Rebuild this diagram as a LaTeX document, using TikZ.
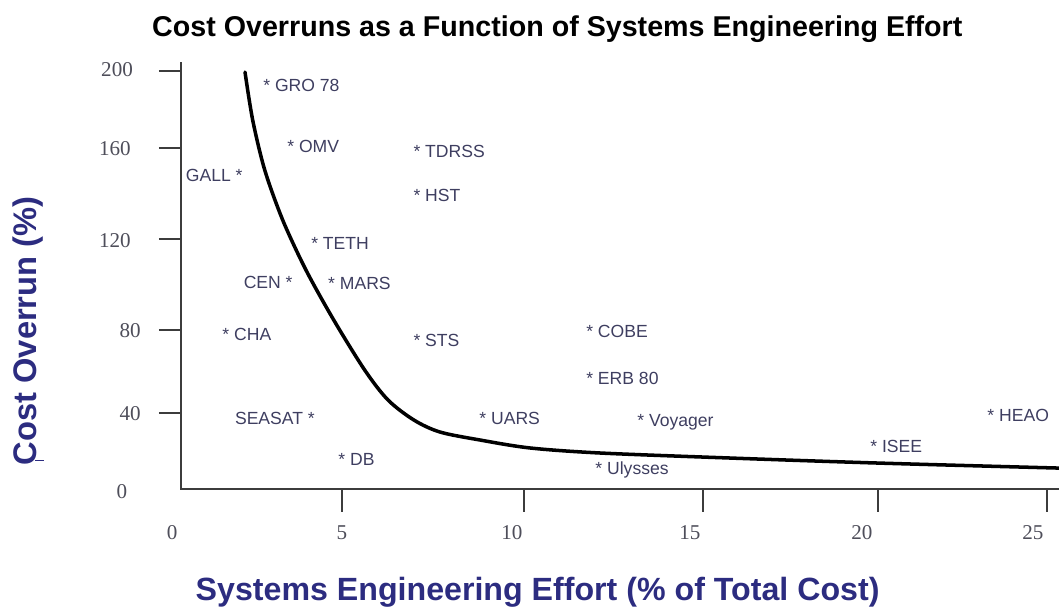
\documentclass[tikz,border=0pt]{standalone}
\usepackage{fontspec}
\setmainfont{Liberation Serif}
\setsansfont{Liberation Sans}
\definecolor{axisblue}{RGB}{44,44,128}
\definecolor{projtext}{RGB}{62,62,96}
\definecolor{numtext}{RGB}{78,78,90}
\definecolor{axisline}{RGB}{60,60,60}
\begin{document}
\begin{tikzpicture}[x=0.705cm, y=0.0419cm]
    \tikzset{proj/.style={font=\sffamily\fontsize{10}{12}\selectfont, text=projtext, inner sep=0pt},
      num/.style={font=\fontsize{12}{14}\selectfont, text=numtext, inner sep=0pt},
      axlab/.style={font=\sffamily\bfseries\fontsize{18.3}{21}\selectfont, text=axisblue, inner sep=0pt},
      axis/.style={draw=axisline, line width=0.85pt}};
    \useasboundingbox (-4.70,-59.67) rectangle (25.34,233.41);
    % titles
    \node[font=\sffamily\bfseries\fontsize{16.3}{19}\selectfont] (title) at (11.11,219.6) {Cost Overruns as a Function of Systems Engineering Effort};
    \node[axlab] (xlab) at (10.55,-49.2) {Systems Engineering Effort (\% of Total Cost)};
    \node[axlab, rotate=90, font=\sffamily\bfseries\fontsize{18.6}{21}\selectfont] (ylab) at (-3.91,75.5) {Cost Overrun (\%)};
    \coordinate (us1) at (-3.70,13.4);
    \coordinate (us2) at (-3.46,13.4);
    \draw[axisblue, line width=0.6pt] (us1) -- (us2);
    % axes
    \coordinate (O) at (0.434,0);
    \coordinate (ytop) at (0.434,203.8);
    \coordinate (xend) at (25.34,0);
    \draw[axis] (ytop) -- (O) -- (xend);
    \foreach \v in {199.5,162.8,119.3,75.9,36.3}
      \draw[axis] (-0.19,\v) -- (0.434,\v);
    \foreach \e in {5,10.16,15.24,20.2,25}
      \draw[axis] (\e,0) -- (\e,-11);
    \foreach \t/\e/\v in {200/-1.38/200.0, 160/-1.44/162.3, 120/-1.44/118.4, 80/-1.01/75.4, 40/-1.01/35.8, 0/-1.24/-1.4}
      \node[num] (y\t) at (\e,\v) {\t};
    \foreach \t/\e in {0/0.18, 5/5.0, 10/9.82, 15/14.87, 20/19.75, 25/24.6}
      \node[num] (x\t) at (\e,-21) {\t};
    % trend curve
    \draw[black, line width=2pt, line cap=round] plot[smooth, tension=0.5] coordinates {
      (2.250,199.0) (2.468,176.1) (2.809,152.3) (3.319,128.4) (3.980,104.5) (4.766,80.7)
      (5.645,56.8) (6.306,42.5) (7.044,32.9) (7.782,27.2) (8.916,23.4) (10.335,19.6)
      (12.32,17.2) (16.01,14.8) (20.21,12.4) (25.34,10.0)};
    % projects
    \node[proj, anchor=west] (pGRO) at (2.76,192.4) {* GRO 78};
    \node[proj, anchor=west] (pOMV) at (3.44,163.7) {* OMV};
    \node[proj, anchor=east] (pGALL) at (2.19,149.9) {GALL *};
    \node[proj, anchor=west] (pTDRSS) at (7.02,161.3) {* TDRSS};
    \node[proj, anchor=west] (pHST) at (7.02,139.9) {* HST};
    \node[proj, anchor=west] (pTETH) at (4.12,117.4) {* TETH};
    \node[proj, anchor=east] (pCEN) at (3.61,98.8) {CEN *};
    \node[proj, anchor=west] (pMARS) at (4.60,98.3) {* MARS};
    \node[proj, anchor=west] (pCHA) at (1.60,74.0) {* CHA};
    \node[proj, anchor=west] (pSTS) at (7.02,71.1) {* STS};
    \node[proj, anchor=west] (pCOBE) at (11.92,75.4) {* COBE};
    \node[proj, anchor=west] (pERB) at (11.92,53.0) {* ERB 80};
    \node[proj, anchor=west] (pUARS) at (8.89,33.9) {* UARS};
    \node[proj, anchor=west] (pVoy) at (13.37,32.0) {* Voyager};
    \node[proj, anchor=east] (pSEASAT) at (4.24,33.9) {SEASAT *};
    \node[proj, anchor=west] (pDB) at (4.89,14.3) {* DB};
    \node[proj, anchor=west] (pUly) at (12.18,9.1) {* Ulysses};
    \node[proj, anchor=west] (pISEE) at (19.98,20.5) {* ISEE};
    \node[proj, anchor=west] (pHEAO) at (23.30,35.3) {* HEAO};
\end{tikzpicture}
\end{document}
